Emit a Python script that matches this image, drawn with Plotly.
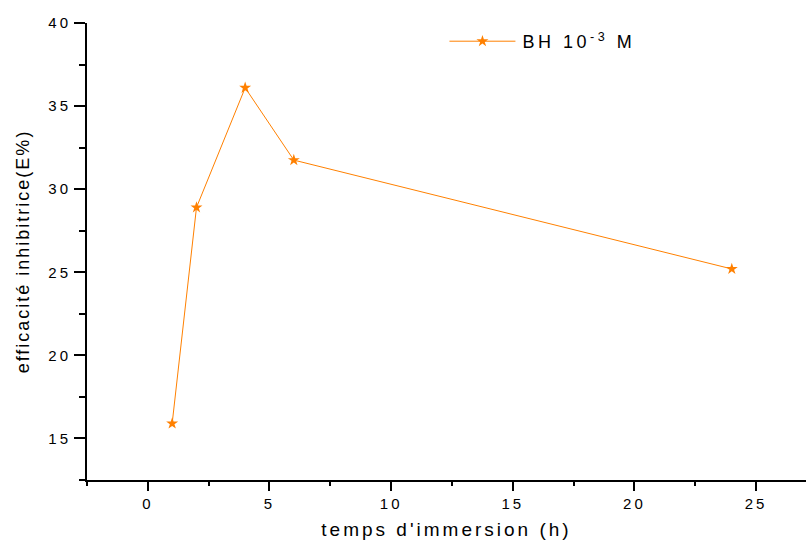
import plotly.graph_objects as go

# Data
temps_h = [1, 2, 4, 6, 24]
efficacite = [15.9, 28.9, 36.1, 31.75, 25.2]
series_name = "BH 10<sup>-3</sup> M"

x_tickvals = [0, 5, 10, 15, 20, 25]
y_tickvals = [15, 20, 25, 30, 35, 40]

orange = "#FF8000"
font_family = "Liberation Sans, Arial, sans-serif"

fig = go.Figure()
fig.add_trace(go.Scatter(
    x=temps_h, y=efficacite, mode="lines+markers", name=series_name,
    line=dict(color=orange, width=1),
    marker=dict(symbol="star", size=9, color=orange, line=dict(width=0)),
))

axis_common = dict(
    showgrid=False, zeroline=False, showline=True, linecolor="black", linewidth=2,
    ticks="outside", tickcolor="black", tickwidth=2,
    tickfont=dict(family=font_family, size=15, color="black"),
    mirror=False,
)

fig.update_xaxes(
    range=[-2.5, 27.05], tickvals=x_tickvals, ticklen=9,
    minor=dict(dtick=2.5, tick0=0, ticks="outside", ticklen=4, tickcolor="black", tickwidth=2),
    title=dict(text="temps d'immersion (h)", font=dict(family=font_family, size=19, color="black"), standoff=12),
    **axis_common,
)
fig.update_yaxes(
    range=[12.5, 40], tickvals=y_tickvals, ticklen=11,
    minor=dict(dtick=2.5, tick0=0, ticks="outside", ticklen=6, tickcolor="black", tickwidth=2),
    title=dict(text="efficacité inhibitrice(E%)", font=dict(family=font_family, size=18, color="black"), standoff=20),
    **axis_common,
)

fig.update_layout(
    width=806, height=547,
    margin=dict(l=87, r=0, t=23, b=67),
    plot_bgcolor="white", paper_bgcolor="white",
    showlegend=True,
    legend=dict(x=0.55, y=1.0, xanchor="left", yanchor="top",
                font=dict(family=font_family, size=18, color="black"),
                bgcolor="rgba(0,0,0,0)"),
)

# The reference text is set with wide letter spacing and a long legend line;
# apply these styling tweaks after drawing.
spacing_js = """
var gd = document.getElementById('{plot_id}');
function sp(sel, v) { gd.querySelectorAll(sel).forEach(function (t) { t.style.letterSpacing = v; }); }
sp('.xtitle', '3px');
sp('.ytitle', '2px');
sp('.legendtext', '3.5px');
sp('.xtick text', '3px');
sp('.ytick text', '3px');
gd.querySelectorAll('.legend [clip-path]').forEach(function (e) { e.removeAttribute('clip-path'); });
gd.querySelectorAll('.legend .legendlines path').forEach(function (p) { p.setAttribute('d', 'M-33,0h66'); });
gd.querySelectorAll('.legend .legendpoints path').forEach(function (p) { p.setAttribute('transform', 'translate(0,0)'); });
"""

fig.write_html("out.html", post_script=spacing_js)
